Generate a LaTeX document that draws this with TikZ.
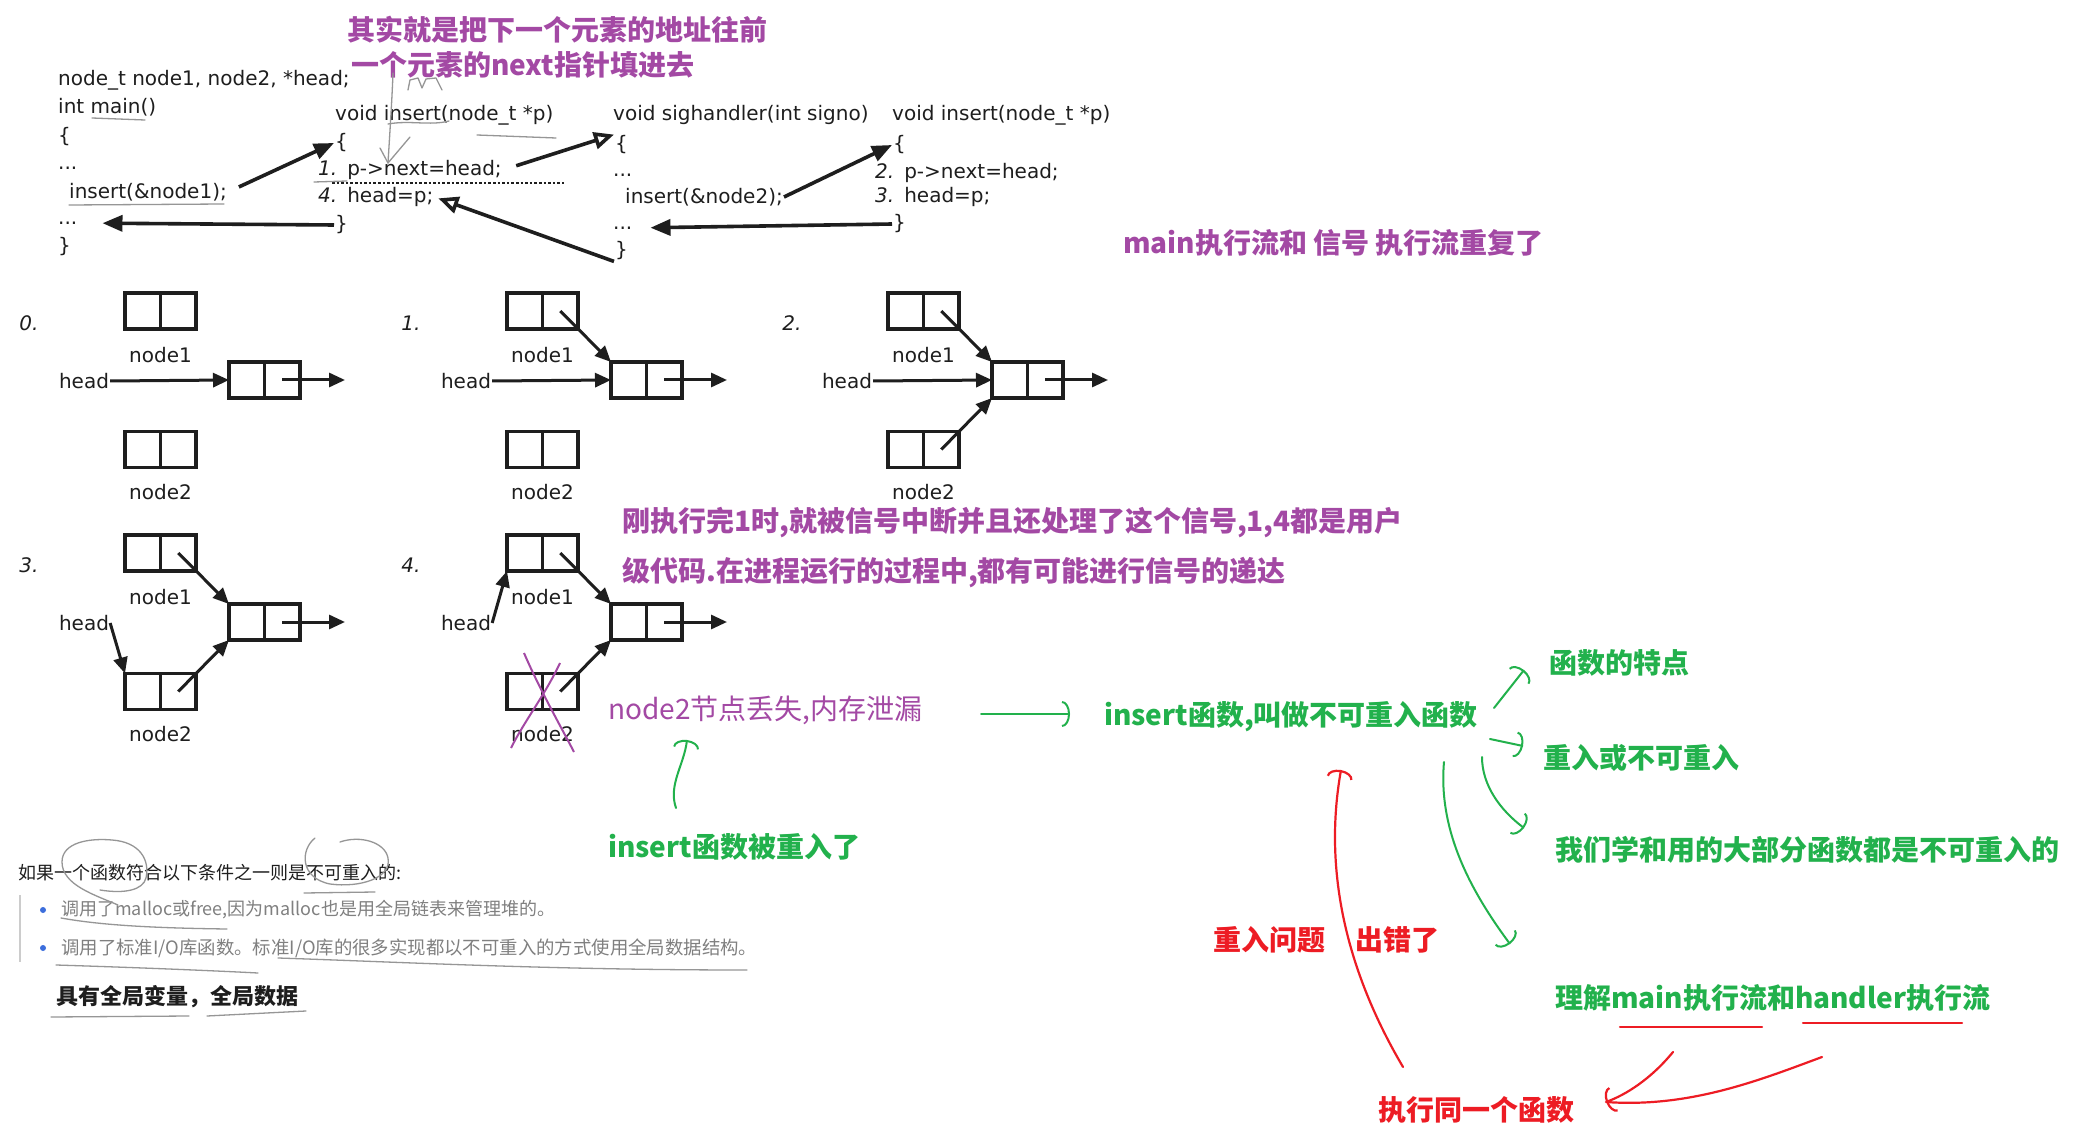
\documentclass[tikz,border=0pt]{standalone}
\usepackage{fontspec}
\setmainfont{DejaVu Sans}
\newfontfamily\cjk{Noto Sans CJK SC}
\usetikzlibrary{arrows.meta,positioning,calc}
\definecolor{purp}{RGB}{163,73,164}
\definecolor{grn}{RGB}{34,177,76}
\definecolor{rd}{RGB}{237,28,36}
\definecolor{ink}{RGB}{30,30,30}
\definecolor{pencil}{RGB}{150,150,150}
\definecolor{bullet}{RGB}{60,110,220}

\begin{document}
\begin{tikzpicture}[x=1pt, y=-1pt,
    code/.style={anchor=west, inner sep=1pt, text=ink, font=\fontsize{20}{24}\selectfont},
    lbl/.style={inner sep=1pt, text=ink, font=\fontsize{20}{24}\selectfont},
    lst/.style={draw=ink, line width=3.4pt, minimum width=71pt, minimum height=36pt, inner sep=0pt, outer sep=0pt,
      path picture={\draw[ink, line width=3.4pt] (path picture bounding box.north) -- (path picture bounding box.south);}},
    carr/.style={ink, line width=3.6pt, -{Triangle[length=20pt,width=16pt]}},
    oarr/.style={ink, line width=3.6pt, -{Triangle[open,length=20pt,width=17pt]}},
    larr/.style={ink, line width=3pt, -{Triangle[length=16pt,width=14pt]}},
    note/.style={anchor=west, inner sep=1pt, font=\cjk\bfseries\fontsize{28}{30}\selectfont},
    plain/.style={anchor=west, inner sep=1pt, font=\cjk\fontsize{18}{20}\selectfont},
    pen/.style={pencil, line width=1.3pt, line cap=round, line join=round},
    gpen/.style={grn, line width=2pt, line cap=round, line join=round},
    rpen/.style={rd, line width=2.2pt, line cap=round, line join=round},
    hook/.style={-{Arc Barb[length=8pt,width=26pt]}}]
  \path[fill=white, use as bounding box] (0,0) rectangle (2073,1131);

  % remark on top
  \node[note, text=purp] (tip1) at (346,30) {其实就是把下一个元素的地址往前};
  \node[note, text=purp] (tip2) at (350,65) {一个元素的next指针填进去};

  % main
  \node[code] (mdecl) at (57,80) {node\_t node1, node2, *head;};
  \node[code] (mhead) at (57,107) {int main()};
  \node[code] (mopen) at (57,137) {\{};
  \node[code] (mdots) at (57,168) {...};
  \node[code] (mcall) at (68,192) {insert(\&node1);};
  \node[code] (mdots2) at (57,223) {...};
  \node[code] (mclose) at (57,247) {\}};

  % insert, first call
  \node[code] (ihead) at (334,115) {void insert(node\_t *p)};
  \node[code] (iopen) at (334,143) {\{};
  \node[code] (i1) at (317,170) {\textit{1.}\hspace{10pt}p->next=head;};
  \node[code] (i4) at (317,197) {\textit{4.}\hspace{10pt}head=p;};
  \node[code] (iclose) at (334,225) {\}};
  \draw[ink, line width=2.6pt, dotted] (332,183) -- (564,183);

  % handler
  \node[code] (shead) at (612,115) {void sighandler(int signo)};
  \node[code] (sopen) at (614,145) {\{};
  \node[code] (sdots) at (612,175) {...};
  \node[code] (scall) at (624,197) {insert(\&node2);};
  \node[code] (sdots2) at (612,228) {...};
  \node[code] (sclose) at (614,251) {\}};

  % insert, second call
  \node[code] (jhead) at (891,115) {void insert(node\_t *p)};
  \node[code] (jopen) at (892,145) {\{};
  \node[code] (j2) at (874,173) {\textit{2.}\hspace{10pt}p->next=head;};
  \node[code] (j3) at (874,197) {\textit{3.}\hspace{10pt}head=p;};
  \node[code] (jclose) at (892,224) {\}};

  \draw[carr, shorten <=12pt] (mcall.east) -- (iopen.west);
  \draw[carr, shorten >=24pt] (iclose.west) -- (mdots2.east);
  \draw[oarr, shorten <=14pt] (i1.east) -- (sopen.north west);
  \draw[oarr, shorten >=4pt] (sclose.south west) -- (i4.east);
  \draw[carr] (scall.east) -- (jopen.west);
  \draw[carr, shorten >=17pt] (jclose.west) -- (sdots2.east);

  % pencil marks on the code
  \draw[pen] (92,118) -- (145,120);
  \draw[pen] (69,205) -- (224,204);
  \draw[pen] (314,182) -- (347,181);
  \draw[pen] (388,124) .. controls (410,120) and (430,126) .. (449,121);
  \draw[pen] (477,135) -- (556,138);
  \draw[pen] (393,73) .. controls (392,100) and (390,130) .. (388,163);
  \draw[pen] (380,148) -- (388,163) -- (410,137);
  \draw[pen] (408,90) -- (410,80) -- (418,78) -- (422,88) -- (426,79) -- (436,78) -- (442,90);

  \node[note, text=purp] (dup) at (1122,243) {main执行流和 信号 执行流重复了};

  % the five list states
  \foreach \d/\sx/\sy/\nr in {0/0/0/0.,1/382/0/1.,2/763/0/2.,3/0/242/3.,4/382/242/4.}{
    \begin{scope}[shift={(\sx,\sy)}]
      \node[lbl, font=\itshape\fontsize{20}{24}\selectfont] (d\d nr) at (29,323) {\nr};
      \node[lst] (d\d n1) at (160.5,311) {};
      \node[lst] (d\d m) at (264.5,380) {};
      \node[lst] (d\d n2) at (160.5,449.5) {};
      \node[lbl, below=17pt of d\d n1] (d\d l1) {node1};
      \node[lbl, below=16pt of d\d n2] (d\d l2) {node2};
      \node[lbl] (d\d h) at (84,381) {head};
      \coordinate (d\d out) at (345,380);
      \draw[larr] ($(d\d m.center)!.5!(d\d m.east)$) -- (d\d out);
    \end{scope}
  }
  \draw[larr] (d0h.east) -- (d0m.west);
  \draw[larr] (d1h.east) -- (d1m.west);
  \draw[larr] ($(d1n1.center)!.5!(d1n1.east)$) -- (d1m.north west);
  \draw[larr] (d2h.east) -- (d2m.west);
  \draw[larr] ($(d2n1.center)!.5!(d2n1.east)$) -- (d2m.north west);
  \draw[larr] ($(d2n2.center)!.5!(d2n2.east)$) -- (d2m.south west);
  \draw[larr] ($(d3n1.center)!.5!(d3n1.east)$) -- (d3m.north west);
  \draw[larr] (d3h.east) -- (d3n2.north west);
  \draw[larr] ($(d3n2.center)!.5!(d3n2.east)$) -- (d3m.south west);
  \draw[larr] (d4h.east) -- (d4n1.south west);
  \draw[larr] ($(d4n1.center)!.5!(d4n1.east)$) -- (d4m.north west);
  \draw[larr] ($(d4n2.center)!.5!(d4n2.east)$) -- (d4m.south west);
  \draw[purp, line width=2pt] (524,653) .. controls (540,690) and (560,725) .. (574,752);
  \draw[purp, line width=2pt] (560,663) .. controls (545,695) and (525,720) .. (511,748);

  % notes
  \node[note, text=purp] (why1) at (621,523) {刚执行完1时,就被信号中断并且还处理了这个信号,1,4都是用户};
  \node[note, text=purp] (why2) at (621,573) {级代码.在进程运行的过程中,都有可能进行信号的递达};
  \node[note, text=purp, font=\cjk\fontsize{28}{30}\selectfont] (leak) at (607,710) {node2节点丢失,内存泄漏};
  \node[note, text=grn] (reent) at (607,847) {insert函数被重入了};
  \node[note, text=grn] (nonre) at (1103,717) {insert函数,叫做不可重入函数};
  \node[note, text=grn] (feat) at (1548,663) {函数的特点};
  \node[note, text=grn] (either) at (1542,758) {重入或不可重入};
  \node[note, text=grn] (most) at (1554,850) {我们学和用的大部分函数都是不可重入的};
  \node[note, text=grn] (flows) at (1554,998) {理解main执行流和handler执行流};
  \node[note, text=rd] (prob) at (1212,940) {重入问题};
  \node[note, text=rd] (err) at (1354,940) {出错了};
  \node[note, text=rd] (same) at (1377,1110) {执行同一个函数};

  % green strokes
  \coordinate (g1a) at (676,808); \coordinate (g1b) at (687,740);
  \draw[gpen, hook] (g1a) .. controls (668,785) and (684,765) .. (g1b);
  \coordinate (g2a) at (981,714); \coordinate (g2b) at (1070,714);
  \draw[gpen, hook] (g2a) -- (g2b);
  \coordinate (g3a) at (1494,708); \coordinate (g3b) at (1524,670);
  \draw[gpen, hook] (g3a) -- (g3b);
  \coordinate (g4a) at (1490,739); \coordinate (g4b) at (1523,746);
  \draw[gpen, hook] (g4a) -- (g4b);
  \coordinate (g5a) at (1482,757); \coordinate (g5b) at (1524,828);
  \draw[gpen, hook] (g5a) .. controls (1482,785) and (1500,810) .. (g5b);
  \coordinate (g6a) at (1444,762); \coordinate (g6b) at (1510,944);
  \draw[gpen, hook] (g6a) .. controls (1438,830) and (1470,890) .. (g6b);

  % red strokes
  \coordinate (r1a) at (1403,1067); \coordinate (r1b) at (1341,770);
  \draw[rpen, hook] (r1a) .. controls (1340,960) and (1325,860) .. (r1b);
  \coordinate (r2a) at (1673,1052); \coordinate (r2b) at (1606,1102);
  \draw[rpen, hook] (r2a) .. controls (1650,1080) and (1625,1095) .. (r2b);
  \coordinate (r3a) at (1822,1057);
  \draw[rpen] (r3a) .. controls (1760,1080) and (1690,1108) .. (r2b);
  \draw[rpen] (1620,1027) -- (1762,1027);
  \draw[rpen] (1803,1023) -- (1962,1023);

  % conditions
  \node[plain, text=ink] (cond) at (17,873) {如果一个函数符合以下条件之一则是不可重入的:};
  \draw[gray!40, line width=1.5pt] (20,895) -- (20,962);
  \fill[bullet] (43,910) circle (3pt);
  \fill[bullet] (43,948) circle (3pt);
  \node[plain, text=gray] (b1) at (60,910) {调用了malloc或free,因为malloc也是用全局链表来管理堆的。};
  \node[plain, text=gray, font=\cjk\fontsize{18.4}{20}\selectfont] (b2) at (60,948) {调用了标准I/O库函数。标准I/O库的很多实现都以不可重入的方式使用全局数据结构。};
  \node[note, text=ink, font=\cjk\bfseries\fontsize{22}{24}\selectfont] (glob) at (55,997) {具有全局变量，全局数据};
  \draw[pen] (118,905) .. controls (95,895) and (62,885) .. (62,862) .. controls (62,842) and (90,838) .. (112,840) .. controls (140,842) and (150,860) .. (146,878) .. controls (143,890) and (125,894) .. (100,890);
  \draw[pen] (315,838) .. controls (300,850) and (300,878) .. (330,884) .. controls (360,888) and (392,878) .. (388,858) .. controls (385,842) and (360,835) .. (340,842);
  \draw[pen] (304,893) -- (375,892);
  \draw[pen] (61,918) .. controls (100,925) and (150,928) .. (227,929);
  \draw[pen] (56,965) .. controls (120,967) and (200,970) .. (258,973);
  \draw[pen] (278,958) .. controls (400,962) and (550,970) .. (747,970);
  \draw[pen] (51,1017) -- (189,1016);
  \draw[pen] (207,1016) -- (306,1011);
\end{tikzpicture}
\end{document}
